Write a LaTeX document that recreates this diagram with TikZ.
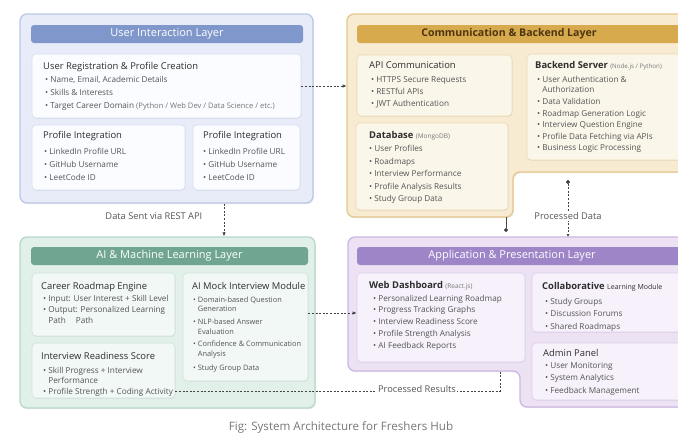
\documentclass[tikz,border=0pt]{standalone}
\usepackage{fontspec}
\setmainfont{Open Sans}
\usetikzlibrary{arrows.meta,shadows,fit}
\definecolor{blueBg}{HTML}{E7ECF8}
\definecolor{blueBr}{HTML}{BCC8E7}
\definecolor{blueBar}{HTML}{7F97CA}
\definecolor{blueIn}{HTML}{FBFCFF}
\definecolor{blueInBr}{HTML}{D8DEF0}
\definecolor{orgBg}{HTML}{F7EBD2}
\definecolor{orgBr}{HTML}{E7C78E}
\definecolor{orgBar}{HTML}{D6AA4D}
\definecolor{orgIn}{HTML}{FBF6EA}
\definecolor{orgInBr}{HTML}{EBD8B4}
\definecolor{orgTxt}{HTML}{4E3510}
\definecolor{grnBg}{HTML}{E2F0EA}
\definecolor{grnBr}{HTML}{B8D8CA}
\definecolor{grnBar}{HTML}{6FA591}
\definecolor{grnIn}{HTML}{F1F8F5}
\definecolor{grnInBr}{HTML}{CFE4DA}
\definecolor{purBg}{HTML}{ECE2F4}
\definecolor{purBr}{HTML}{CDB8E2}
\definecolor{purBar}{HTML}{9D85C8}
\definecolor{purIn}{HTML}{F6F1FA}
\definecolor{purInBr}{HTML}{DDCEEC}
\definecolor{txtA}{HTML}{2E2E2E}
\definecolor{txtB}{HTML}{555555}
\definecolor{txtC}{HTML}{777777}
\definecolor{lineC}{HTML}{444444}
\newcounter{bulc}
\newcommand\bul[3]{\stepcounter{bulc}\node[bul] (bul\arabic{bulc}) at (#1,#2) {\textbullet\ #3};}
\newcommand\cnt[3]{\stepcounter{bulc}\node[bul] (bul\arabic{bulc}) at (#1,#2) {\phantom{\textbullet\ }#3};}
\newcommand\buls[3]{\stepcounter{bulc}\node[bul, font=\fontsize{7.4}{9}\selectfont] (bul\arabic{bulc}) at (#1,#2) {\textbullet\ #3};}
\newcommand\cnts[3]{\stepcounter{bulc}\node[bul, font=\fontsize{7.4}{9}\selectfont] (bul\arabic{bulc}) at (#1,#2) {\phantom{\textbullet\ }#3};}
\newcommand\smallpar[2]{{\fontsize{#1}{8}\selectfont\mdseries\color{txtC}#2}}
\begin{document}
\begin{tikzpicture}[x=1pt,y=-1pt,
  layer/.style={draw=#1Br, fill=#1Bg, line width=1.3pt, rounded corners=7pt,
    drop shadow={shadow xshift=0.8pt, shadow yshift=-1.2pt, opacity=0.18}},
  bar/.style={fill=#1Bar, rounded corners=3pt, inner sep=0pt, draw=none},
  inbox/.style={draw=#1InBr, fill=#1In, line width=0.6pt, rounded corners=4pt, inner sep=0pt,
    drop shadow={shadow xshift=0.5pt, shadow yshift=-0.8pt, opacity=0.12}},
  ltitle/.style={inner sep=0pt, font=\fontsize{11}{13}\selectfont},
  ttl/.style={anchor=west, inner sep=0pt, text=txtA, font=\fontsize{9.4}{11}\selectfont, text height=7pt, text depth=2pt},
  bul/.style={anchor=west, inner sep=0pt, text=txtB, font=\fontsize{8.2}{10}\selectfont, text height=5.8pt, text depth=1.7pt},
  lbl/.style={inner sep=1.5pt, text=txtB, font=\fontsize{9.3}{11}\selectfont},
  conn/.style={draw=lineC, line width=0.8pt, dash pattern=on 2pt off 1.6pt},
  solidc/.style={draw=lineC, line width=0.8pt},
  tip/.style={-{Latex[length=4pt,width=3.5pt]}}
]
\useasboundingbox (0,0) rectangle (678,437);
\fill[white] (0,0) rectangle (678,437);
\clip (0,0) rectangle (678,437);

% ---------------- User Interaction Layer
\node[layer=blue, fit={(20,14) (313,203)}, inner sep=0pt] (uil) {};
\node[bar=blue, fit={(31,25) (303,43)}] (uilbar) {};
\node[ltitle, text=white] (uilt) at (uilbar.center) {User Interaction Layer};
\node[inbox=blue, fit={(32,54) (301,118)}] (reg) {};
\node[ttl] (regt) at (43,67) {User Registration \& Profile Creation};
\bul{45}{80}{Name, Email, Academic Details}
\bul{45}{93}{Skills \& Interests}
\bul{45}{106}{Target Career Domain \smallpar{7.6}{(Python / Web Dev / Data Science / etc.)}}
\node[inbox=blue, fit={(32,125) (185,190)}] (pi1) {};
\node[ttl] (pi1t) at (43,136) {Profile Integration};
\bul{44}{152}{LinkedIn Profile URL}
\bul{44}{165}{GitHub Username}
\bul{44}{178}{LeetCode ID}
\node[inbox=blue, fit={(193,125) (300,190)}] (pi2) {};
\node[ttl] (pi2t) at (203,136) {Profile Integration};
\bul{203}{152}{LinkedIn Profile URL}
\bul{203}{165}{GitHub Username}
\bul{203}{178}{LeetCode ID}

% ---------------- Communication & Backend Layer
\draw[layer=org] (347,14) -- (692,14) -- (692,172) -- (513,172) -- (513,217) -- (347,217) -- cycle;
\coordinate (dbOut) at (506,217);
\coordinate (bkOut) at (568,172);
\node[bar=org, fit={(357,25) (692,43)}] (cblbar) {};
\node[ltitle, text=orgTxt, font=\fontsize{10.6}{13}\selectfont\bfseries] (cblt) at (509,34) {Communication \& Backend Layer};
\node[inbox=org, fit={(357,55) (512,116)}] (api) {};
\node[ttl] (apit) at (369,66) {API Communication};
\bul{371}{80}{HTTPS Secure Requests}
\bul{371}{92}{RESTful APIs}
\bul{371}{104}{JWT Authentication}
\node[inbox=org, fit={(527,54) (692,160)}] (bke) {};
\node[ttl] (bket) at (535,66) {\bfseries Backend Server \smallpar{6.2}{(Node.js / Python)}};
\bul{537}{80}{User Authentication \&}
\cnt{537}{90}{Authorization}
\bul{537}{102}{Data Validation}
\bul{537}{114}{Roadmap Generation Logic}
\bul{537}{125}{Interview Question Engine}
\bul{537}{137}{Profile Data Fetching via APIs}
\bul{537}{148}{Business Logic Processing}
\node[inbox=org, fit={(356,123) (508,210)}] (db) {};
\node[ttl] (dbt) at (369,136) {\bfseries Database \smallpar{6.5}{(MongoDB)}};
\bul{369}{149}{User Profiles}
\bul{369}{162}{Roadmaps}
\bul{369}{174}{Interview Performance}
\bul{369}{187}{Profile Analysis Results}
\bul{369}{199}{Study Group Data}

% ---------------- AI & Machine Learning Layer
\node[layer=grn, fit={(20,237) (315,408)}, inner sep=0pt] (ail) {};
\node[bar=grn, fit={(31,247) (308,265)}] (ailbar) {};
\node[ltitle, text=white] (ailt) at (ailbar.center) {AI \& Machine Learning Layer};
\node[inbox=grn, fit={(32,273) (175,336)}] (cre) {};
\node[ttl] (cret) at (41,287) {Career Roadmap Engine};
\bul{43}{299}{Input: User Interest + Skill Level}
\bul{43}{310}{Output: Personalized Learning}
\cnt{43}{321}{Path\hspace{10pt}Path}
\node[inbox=grn, fit={(183,273) (308,381)}] (mock) {};
\node[ttl] (mockt) at (192,287) {AI Mock Interview Module};
\buls{193}{300}{Domain-based Question}
\cnts{193}{309}{Generation}
\buls{193}{322}{NLP-based Answer}
\cnts{193}{332}{Evaluation}
\buls{193}{344}{Confidence \& Communication}
\cnts{193}{354}{Analysis}
\buls{193}{368}{Study Group Data}
\node[inbox=grn, fit={(32,343) (175,398)}] (rdy) {};
\node[ttl] (rdyt) at (41,357) {Interview Readiness Score};
\bul{43}{371}{Skill Progress + Interview}
\cnt{43}{381}{Performance}
\bul{43}{392}{Profile Strength + Coding Activity}

% ---------------- Application & Presentation Layer
\draw[layer=pur] (348,237) -- (692,237) -- (692,407) -- (520,407) -- (520,371) -- (348,371) -- cycle;
\coordinate (appTopA) at (506,237);
\coordinate (appTopB) at (568,237);
\coordinate (appBot) at (500,371);
\node[bar=pur, fit={(357,247) (692,265)}] (aplbar) {};
\node[ltitle, text=white] (aplt) at (512,256) {Application \& Presentation Layer};
\node[inbox=pur, fit={(357,273) (525,362)}] (web) {};
\node[ttl] (webt) at (369,286) {\bfseries Web Dashboard \smallpar{6.5}{(React.js)}};
\bul{373}{299}{Personalized Learning Roadmap}
\bul{373}{310}{Progress Tracking Graphs}
\bul{373}{322}{Interview Readiness Score}
\bul{373}{334}{Profile Strength Analysis}
\bul{373}{346}{AI Feedback Reports}
\node[inbox=pur, fit={(532,273) (692,332)}] (col) {};
\node[ttl] (colt) at (542,287) {\bfseries Collaborative {\fontsize{7}{8}\selectfont\mdseries Learning Module}};
\bul{545}{302}{Study Groups}
\bul{545}{314}{Discussion Forums}
\bul{545}{327}{Shared Roadmaps}
\node[inbox=pur, fit={(532,343) (692,400)}] (adm) {};
\node[ttl] (admt) at (543,354) {Admin Panel};
\bul{545}{366}{User Monitoring}
\bul{545}{378}{System Analytics}
\bul{545}{391}{Feedback Management}

% ---------------- Connectors
\coordinate (restX) at (224,0);
\coordinate (midY) at (0,313);
\coordinate (resY) at (0,391);
\draw[conn, tip, shorten >=10pt] (reg.east) -- (reg.east -| api.west);
\draw[conn, tip] (uil.south -| restX) -- (ail.north -| restX);
\node[lbl, anchor=east] (restlbl) at (204,216) {Data Sent via REST API};
\draw[solidc, -{Circle[length=4pt]}, shorten >=5pt] (dbOut) -- (appTopA);
\draw[conn, {Circle[length=4pt]}-{Latex[length=3pt,width=3pt]}, shorten <=8pt] (bkOut) -- (appTopB)
  node[lbl, fill=white, pos=0.68] (pdlbl) {Processed Data};
\draw[conn, tip] (mock.east |- midY) -- (web.west |- midY);
\draw[conn] (rdy.east |- resY) -- (appBot |- resY) -- (appBot);
\node[lbl, fill=white] (prlbl) at (417,389) {Processed Results};

\node[font=\fontsize{11.6}{13}\selectfont, text=txtC, inner sep=0pt] (cap) at (341,427) {Fig: System Architecture for Freshers Hub};
\end{tikzpicture}
\end{document}
